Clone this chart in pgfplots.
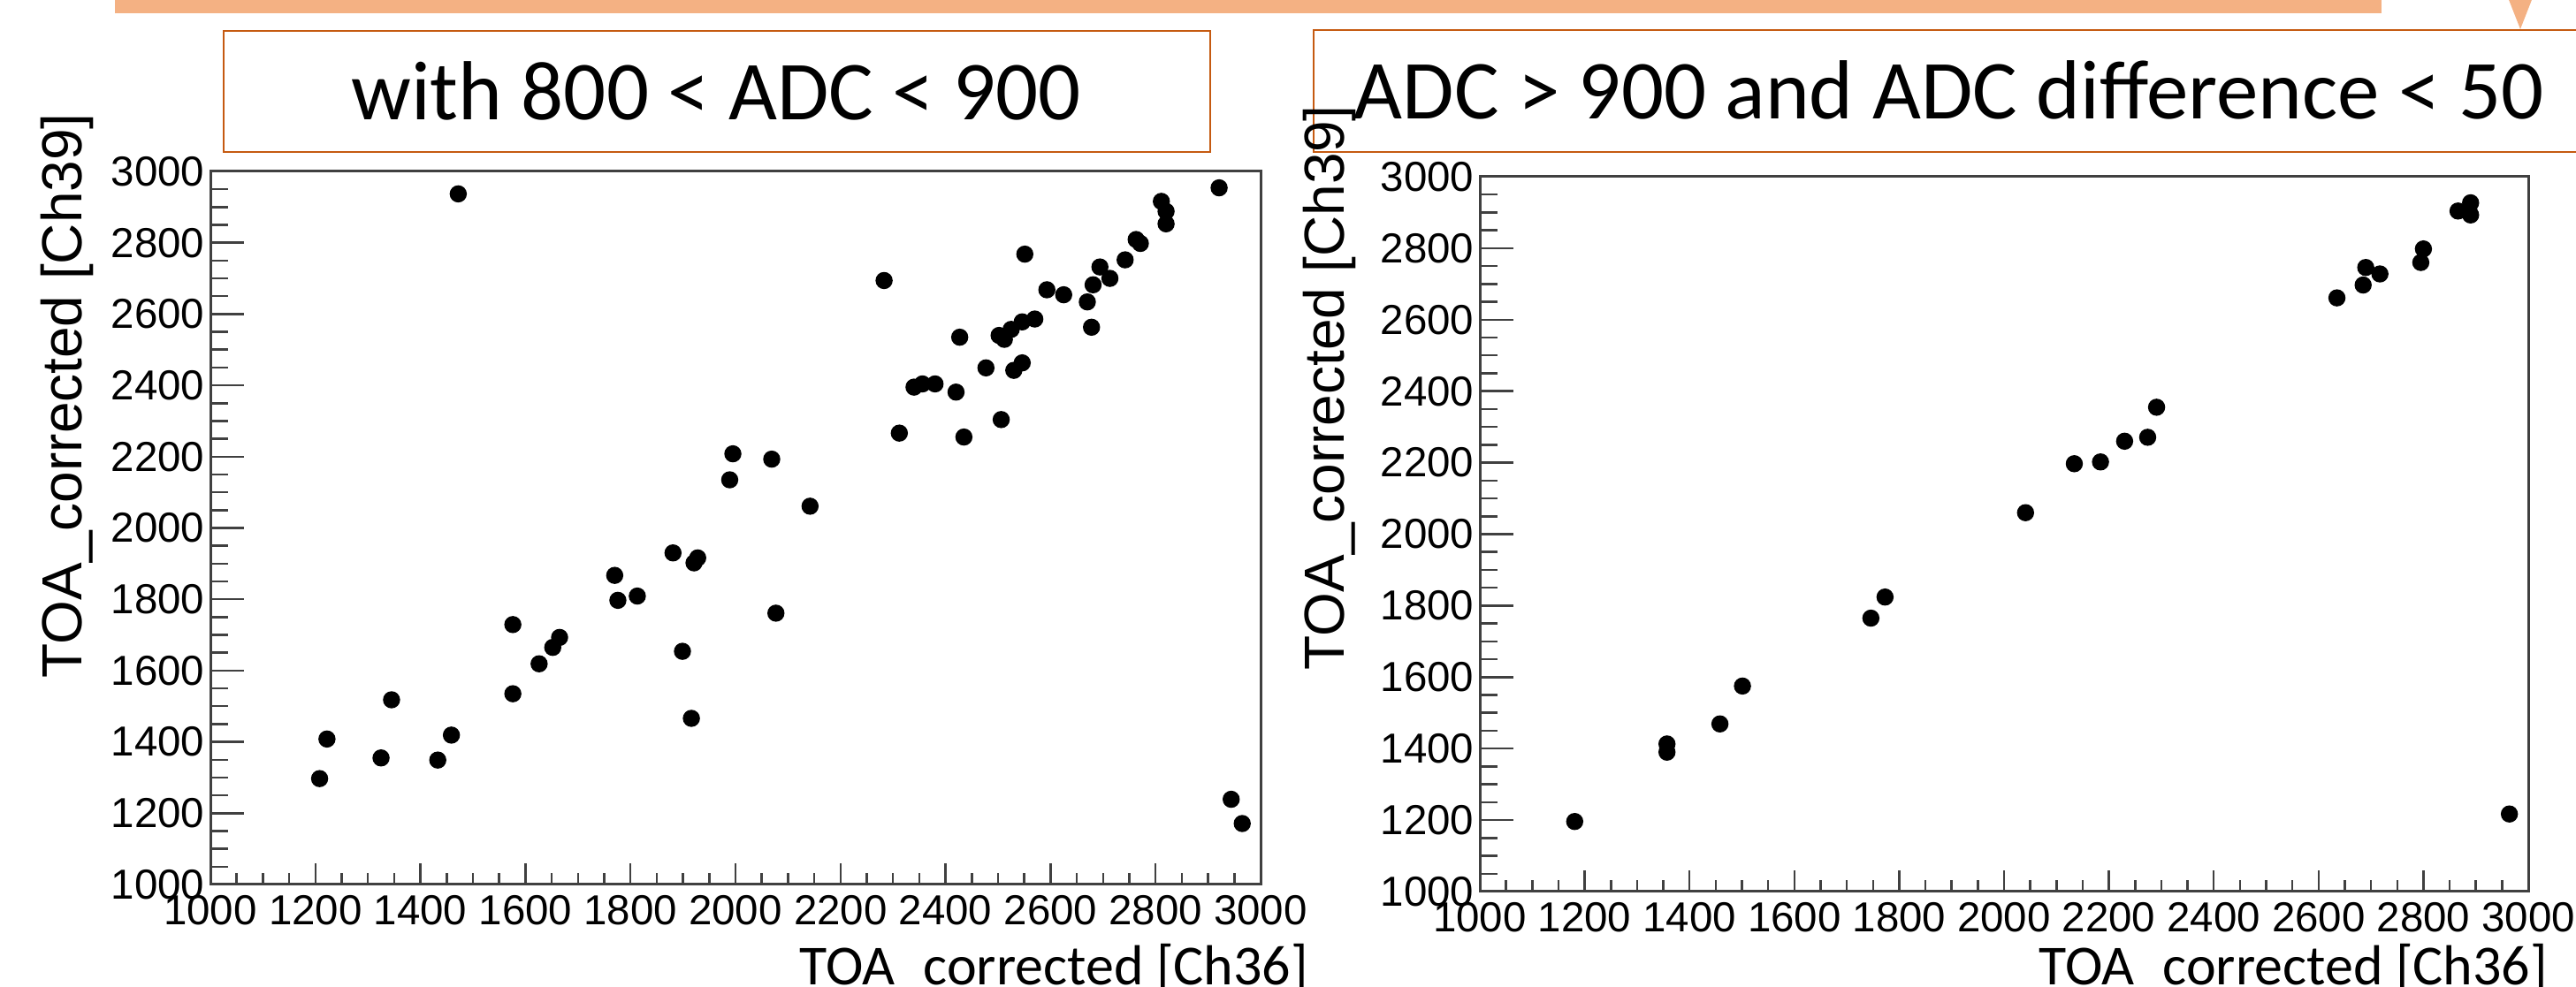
\documentclass[border=0pt]{standalone}
\usepackage{fontspec}
\setmainfont{Liberation Sans}
\newfontfamily\calfont{Carlito}
\usepackage{pgfplots}
\usepackage{pgfplotstable}
\pgfplotsset{compat=1.18}

\definecolor{barorange}{HTML}{F4B183}
\definecolor{boxorange}{HTML}{C55A11}
\definecolor{framegray}{HTML}{404040}

% left: 800 < ADC < 900
\pgfplotstableread{
x y
1472 2937
2283 2694
2312 2266
2340 2395
2356 2404
2380 2404
2420 2381
2427 2535
2435 2255
2477 2449
2506 2304
2502 2540
2512 2529
2525 2557
2530 2442
2546 2463
2546 2578
2551 2768
2570 2586
2593 2668
2625 2654
2670 2634
2678 2563
2681 2682
2694 2732
2713 2700
2742 2752
2763 2809
2771 2798
2811 2916
2820 2888
2820 2853
2921 2954
2944 1239
2965 1171
2142 2061
2069 2193
2077 1761
1995 2208
1989 2135
1881 1930
1899 1654
1921 1902
1928 1916
1916 1466
1770 1867
1776 1797
1813 1809
1576 1729
1576 1535
1626 1619
1652 1665
1665 1693
1345 1518
1459 1419
1433 1349
1325 1355
1222 1408
1208 1297
}\lowadc

% right: ADC > 900, difference < 50
\pgfplotstableread{
x y
1181 1196
1357 1413
1357 1390
1458 1469
1501 1575
1746 1765
1773 1824
2041 2060
2134 2197
2184 2202
2230 2260
2274 2271
2291 2355
2635 2661
2685 2697
2690 2746
2717 2728
2795 2760
2800 2798
2866 2904
2887 2904
2890 2927
2890 2893
2964 1217
}\highadc

\pgfplotsset{
  rootframe/.style={
    scale only axis,
    anchor=south west,
    xmin=1000, xmax=3000, ymin=1000, ymax=3000,
    tick align=inside,
    xtick pos=left, ytick pos=left,
    axis line style={framegray, line width=0.03cm},
    tick style={framegray, line width=0.025cm},
    /pgf/number format/assume math mode=true,
    /pgf/number format/1000 sep={},
    scaled ticks=false,
    tick label style={font=\fontsize{13.5}{13.5}\selectfont, inner sep=0pt},
  },
  xpart/.style={
    rootframe,
    xtick={1000,1200,...,3000}, minor x tick num=3, ytick=\empty,
    major tick length=0.24cm, minor tick length=0.13cm,
    xticklabel style={yshift=-0.12cm},
    xlabel style={font=\calfont\fontsize{18.2}{18.2}\selectfont, anchor=base east, inner sep=0pt},
    ylabel style={font=\fontsize{18.2}{18.2}\selectfont, anchor=west, inner sep=0pt},
  },
  ypart/.style={
    rootframe,
    axis line style={draw=none},
    xtick=\empty, ytick={1000,1200,...,3000}, minor y tick num=3,
    major tick length=0.38cm, minor tick length=0.2cm,
    yticklabel style={xshift=-0.06cm},
  },
}

\begin{document}
\begin{tikzpicture}
\useasboundingbox (0,0) rectangle (29.14cm,11.17cm);

% slide decoration
\fill[barorange] (1.30cm,11.30cm) rectangle (26.94cm,11.02cm);
\fill[barorange] (28.33cm,11.30cm) -- (28.69cm,11.30cm) -- (28.51cm,10.84cm) -- cycle;

\draw[boxorange, line width=0.025cm] (2.53cm,10.82cm) rectangle (13.69cm,9.45cm);
\node[anchor=base, inner sep=0pt, font=\calfont\fontsize{27}{27}\selectfont]
  at (8.10cm,9.81cm) {with 800 < ADC < 900};

\draw[boxorange, line width=0.025cm] (14.86cm,10.83cm) rectangle (29.60cm,9.45cm);
\node[anchor=base, inner sep=0pt, font=\calfont\fontsize{27}{27}\selectfont]
  at (22.05cm,9.82cm) {ADC > 900 and ADC difference < 50};

% left plot
\begin{axis}[xpart, at={(2.38cm,1.16cm)}, width=11.88cm, height=8.07cm,
  xlabel={TOA\_corrected [Ch36]},
  xlabel style={at={(axis description cs:1.046,-0.141)}},
  ylabel={TOA\_corrected [Ch39]},
  ylabel style={at={(axis description cs:-0.136,0.289)}}]
  \addplot[only marks, mark=*, mark size=0.09cm, black] table[x=x, y=y] {\lowadc};
\end{axis}
\begin{axis}[ypart, at={(2.38cm,1.16cm)}, width=11.88cm, height=8.07cm]
\end{axis}

% right plot
\begin{axis}[xpart, at={(16.74cm,1.08cm)}, width=11.86cm, height=8.09cm,
  xlabel={TOA\_corrected [Ch36]},
  xlabel style={at={(axis description cs:1.019,-0.131)}},
  ylabel={TOA\_corrected [Ch39]},
  ylabel style={at={(axis description cs:-0.143,0.309)}}]
  \addplot[only marks, mark=*, mark size=0.09cm, black] table[x=x, y=y] {\highadc};
\end{axis}
\begin{axis}[ypart, at={(16.74cm,1.08cm)}, width=11.86cm, height=8.09cm]
\end{axis}
\end{tikzpicture}
\end{document}
